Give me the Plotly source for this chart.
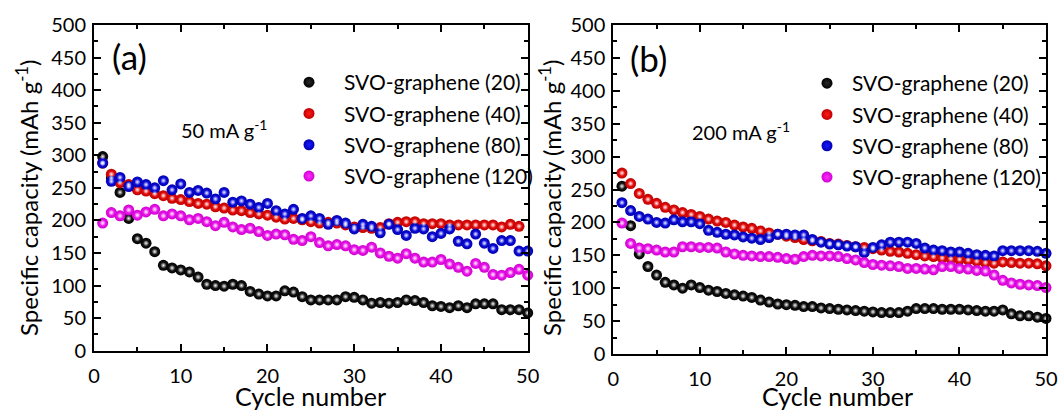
import plotly.graph_objects as go

cycles = list(range(1, 51))

# Panel (a): 50 mA g-1
a_20 = [298, 265, 243, 203, 172, 165, 152, 131, 127, 124, 121, 113, 102, 100, 99, 102, 100, 91, 87, 84,
        84, 92, 90, 83, 78, 78, 78, 78, 83, 82, 78, 73, 74, 73, 74, 78, 77, 74, 69, 68,
        66, 69, 66, 72, 72, 72, 63, 63, 63, 58]
a_40 = [288, 271, 258, 255, 247, 245, 241, 238, 234, 232, 229, 226, 225, 221, 219, 216, 215, 212, 210, 208,
        205, 202, 203, 201, 198, 196, 197, 196, 193, 190, 189, 188, 189, 195, 197, 198, 198, 195, 195, 195,
        193, 193, 193, 193, 193, 193, 190, 194, 191]
a_80 = [288, 260, 266, 252, 259, 255, 250, 261, 247, 256, 243, 246, 242, 233, 243, 228, 230, 225, 220, 226,
        215, 210, 217, 203, 207, 203, 194, 200, 196, 187, 194, 191, 181, 194, 186, 177, 188, 187, 175, 180,
        187, 168, 164, 179, 165, 157, 169, 169, 153, 153]
a_120 = [196, 212, 207, 216, 208, 213, 217, 207, 210, 207, 201, 203, 198, 192, 197, 190, 186, 188, 183, 177,
         179, 178, 171, 169, 175, 166, 161, 163, 161, 155, 154, 159, 150, 145, 142, 149, 142, 136, 136, 140,
         133, 128, 122, 134, 128, 117, 116, 120, 125, 116]

# Panel (b): 200 mA g-1
b_20 = [255, 195, 152, 133, 120, 109, 105, 100, 105, 101, 97, 95, 92, 90, 88, 86, 82, 79, 76, 75,
        74, 72, 72, 70, 69, 68, 67, 66, 65, 64, 63, 63, 63, 65, 69, 69, 69, 68, 68, 68,
        67, 66, 65, 65, 67, 61, 58, 58, 56, 54]
b_40 = [275, 259, 244, 235, 229, 223, 219, 215, 212, 209, 205, 202, 200, 196, 193, 191, 187, 184, 182, 179,
        177, 174, 172, 171, 168, 167, 165, 163, 162, 160, 158, 156, 155, 153, 151, 149, 148, 146, 145, 144,
        143, 141, 139, 138, 140, 139, 138, 138, 137, 134]
b_80 = [230, 218, 209, 205, 200, 199, 204, 201, 201, 198, 188, 185, 182, 181, 178, 176, 174, 177, 182, 182,
        181, 181, 174, 170, 167, 166, 164, 163, 154, 162, 166, 170, 170, 170, 168, 161, 158, 157, 155, 155,
        153, 151, 150, 149, 157, 157, 157, 157, 156, 153]
b_120 = [199, 168, 161, 160, 158, 155, 155, 163, 163, 162, 162, 161, 155, 152, 150, 149, 148, 148, 147, 145,
         144, 148, 150, 149, 149, 148, 145, 143, 139, 136, 135, 134, 133, 130, 130, 129, 128, 133, 133, 130,
         129, 127, 126, 120, 112, 108, 106, 105, 104, 101]

names = ["SVO-graphene (20)", "SVO-graphene (40)", "SVO-graphene (80)", "SVO-graphene (120)"]
rims = ["#000000", "#c00000", "#0000b0", "#d000d0"]
cores = ["#2a2a2a", "#ff1a1a", "#1a1aff", "#ff30ff"]

FONT = "Lato"
PAD = "\u00a0\u00a0"
fig = go.Figure()

def add_series(series_list, xa, ya, leg, prefix):
    for i, (ys, nm) in enumerate(zip(series_list, names)):
        xs = cycles[:len(ys)]
        fig.add_trace(go.Scatter(
            x=xs, y=ys, mode="markers", name=nm + PAD,
            legend=leg, legendgroup="%s%d" % (prefix, i),
            marker=dict(size=11, color=rims[i], line=dict(width=0),
                        gradient=dict(type="radial", color=cores[i])),
            xaxis=xa, yaxis=ya, cliponaxis=False, hoverinfo="skip"))
    for i, ys in enumerate(series_list):
        xs = cycles[:len(ys)]
        fig.add_trace(go.Scatter(
            x=xs, y=ys, mode="markers", showlegend=False,
            legend=leg, legendgroup="%s%d" % (prefix, i),
            marker=dict(size=6, color="rgba(255,255,255,0)", line=dict(width=0),
                        gradient=dict(type="radial", color="rgba(255,255,255,0.95)")),
            xaxis=xa, yaxis=ya, cliponaxis=False, hoverinfo="skip"))

add_series([a_20, a_40, a_80, a_120], "x", "y", "legend", "a")
add_series([b_20, b_40, b_80, b_120], "x2", "y2", "legend2", "b")

W, H = 1059, 410
def px(x):
    return x / W
def py(y):
    return 1 - y / H

axis_common = dict(
    showline=True, linecolor="black", linewidth=2, mirror="ticks",
    ticks="inside", tickcolor="black", tickwidth=1.5, ticklen=7,
    showgrid=False, zeroline=False,
    tickfont=dict(family=FONT, size=20, color="black"),
)

xcommon = dict(axis_common, range=[0, 50], dtick=10, tick0=0, ticklabelstandoff=6,
               minor=dict(ticks="inside", dtick=5, ticklen=4, tickcolor="black", tickwidth=1.5))
ycommon = dict(axis_common, range=[0, 500], dtick=50, tick0=0, ticklabelstandoff=2,
               minor=dict(ticks="inside", dtick=25, ticklen=4, tickcolor="black", tickwidth=1.5))

fig.update_layout(
    width=W, height=H,
    margin=dict(l=0, r=0, t=0, b=0, autoexpand=False),
    paper_bgcolor="white", plot_bgcolor="white",
    font=dict(family=FONT, color="black"),
    xaxis=dict(xcommon, domain=[px(94), px(527.7)], anchor="y"),
    yaxis=dict(ycommon, domain=[py(350.7), py(25)], anchor="x"),
    xaxis2=dict(xcommon, domain=[px(613.3), px(1046)], anchor="y2"),
    yaxis2=dict(ycommon, domain=[py(354), py(25)], anchor="x2"),
    legend=dict(x=px(274), y=py(62), xanchor="left", yanchor="top",
                bgcolor="rgba(0,0,0,0)", font=dict(family=FONT, size=21),
                itemwidth=60, tracegroupgap=1),
    legend2=dict(x=px(802), y=py(63), xanchor="left", yanchor="top",
                 bgcolor="rgba(0,0,0,0)", font=dict(family=FONT, size=21),
                 itemwidth=40, tracegroupgap=1),
    showlegend=True,
)

ann = [
    dict(text="(a)", x=px(129), y=py(56), font=dict(size=35)),
    dict(text="(b)", x=px(648), y=py(58), font=dict(size=35)),
    dict(text="50 mA g<sup>-1</sup>", x=px(224), y=py(129), font=dict(size=20)),
    dict(text="200 mA g<sup>-1</sup>", x=px(741), y=py(131), font=dict(size=20)),
    dict(text="Cycle number", x=px(310), y=py(396), font=dict(size=25)),
    dict(text="Cycle number", x=px(837), y=py(396), font=dict(size=25)),
    dict(text="Specific capacity (mAh g<sup>-1</sup>)", x=px(27), y=py(198), textangle=-90, font=dict(size=24)),
    dict(text="Specific capacity (mAh g<sup>-1</sup>)", x=px(550), y=py(198), textangle=-90, font=dict(size=24)),
]
for a in ann:
    a.update(xref="paper", yref="paper", showarrow=False, xanchor="center", yanchor="middle")
    a["font"] = dict(family=FONT, color="black", size=a["font"]["size"])
fig.update_layout(annotations=ann)

fig.write_html("out.html")
